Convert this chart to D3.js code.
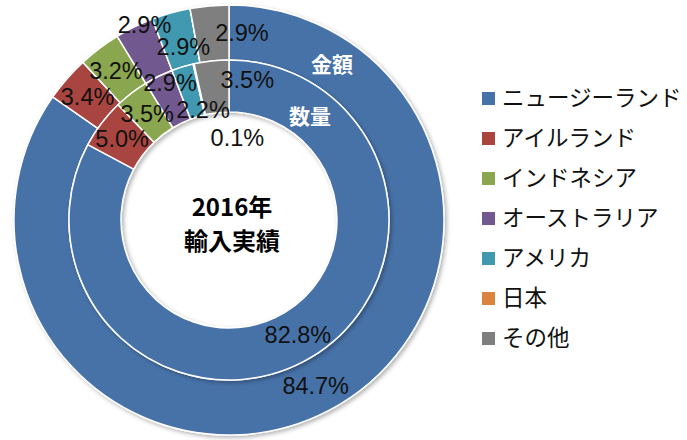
<!DOCTYPE html>
<html>
<head>
<meta charset="utf-8">
<script src="https://cdn.jsdelivr.net/npm/d3@7"></script>
<style>
  html, body { margin: 0; padding: 0; background: #fff; }
  svg { display: block; }
</style>
</head>
<body>
<svg id="chart"></svg>
<script>
// 2016 import results by country: outer ring = value (金額), inner ring = quantity (数量)
const countries = ['ニュージーランド', 'アイルランド', 'インドネシア', 'オーストラリア', 'アメリカ', '日本', 'その他'];
const valueShare = [84.7, 3.4, 3.2, 2.9, 2.9, 0, 2.9];
const quantityShare = [82.8, 5.0, 3.5, 2.9, 2.2, 0.1, 3.5];
const colors = ['#4672A8', '#A9443F', '#8AA64F', '#71588F', '#4199B0', '#DB843D', '#7F7F7F'];

// label nudges (px) where Excel moved labels away from slice centroids
const outerNudge = [[0, 0], [0, 0], [0, 0], [-2, -27], [5, 7], [0, 0], [30, -1]];
const innerNudge = [[0, 0], [0, 0], [0, 0], [0, -17], [13, 18], [38, 48], [33, -7]];

const width = 687, height = 440;
const cx = 229, cy = 220;
const rOuter = 215, rMid = 160, rInner = 108;

const svg = d3.select('#chart').attr('width', width).attr('height', height);

const defs = svg.append('defs');
const shadow = defs.append('filter').attr('id', 'shadow')
  .attr('x', '-10%').attr('y', '-10%').attr('width', '120%').attr('height', '120%');
shadow.append('feDropShadow')
  .attr('dx', 2).attr('dy', 2).attr('stdDeviation', 2)
  .attr('flood-color', '#000').attr('flood-opacity', 0.3);

const g = svg.append('g').attr('transform', `translate(${cx},${cy})`);

const pie = d3.pie().sort(null).value(d => d.v);

function ring(values, r0, r1, nudge, cls) {
  const data = pie(values.map((v, i) => ({ v, i })));
  const arc = d3.arc().innerRadius(r0).outerRadius(r1);
  const labelArc = d3.arc().innerRadius((r0 + r1) / 2).outerRadius((r0 + r1) / 2);

  const grp = g.append('g').attr('class', cls);
  grp.append('g')
    .attr('filter', 'url(#shadow)')
    .selectAll('path')
    .data(data)
    .join('path')
      .attr('d', arc)
      .attr('fill', d => colors[d.data.i])
      .attr('stroke', '#fff')
      .attr('stroke-width', 1.5)
      .attr('stroke-linejoin', 'round');

  grp.append('g')
    .selectAll('text')
    .data(data.filter(d => d.data.v > 0))
    .join('text')
      .attr('transform', d => {
        const [x, y] = labelArc.centroid(d);
        const n = nudge[d.data.i];
        return `translate(${x + n[0]},${y + n[1]})`;
      })
      .attr('text-anchor', 'middle')
      .attr('dy', '0.35em')
      .style('font-family', '"Liberation Sans Narrow", "Arial Narrow", sans-serif')
      .style('font-size', '23.5px')
      .style('fill', '#111')
      .text(d => d.data.v.toFixed(1) + '%');
}

ring(valueShare, rMid, rOuter, outerNudge, 'outer');
ring(quantityShare, rInner, rMid, innerNudge, 'inner');

// ring captions
const jpFont = '"Noto Sans CJK JP", "Noto Sans", sans-serif';
g.append('text')
  .attr('x', 103).attr('y', -155)
  .attr('text-anchor', 'middle').attr('dy', '0.35em')
  .style('font-family', jpFont).style('font-weight', 'bold')
  .style('font-size', '21px').style('fill', '#fff')
  .text('金額');
g.append('text')
  .attr('x', 81).attr('y', -103)
  .attr('text-anchor', 'middle').attr('dy', '0.35em')
  .style('font-family', jpFont).style('font-weight', 'bold')
  .style('font-size', '21px').style('fill', '#fff')
  .text('数量');

// center title
const title = g.append('text')
  .attr('text-anchor', 'middle')
  .style('font-family', jpFont).style('font-weight', 'bold')
  .style('font-size', '24px').style('fill', '#000');
title.append('tspan').attr('x', 3).attr('y', -12).attr('dy', '0.35em').text('2016年');
title.append('tspan').attr('x', 3).attr('y', 22).attr('dy', '0.35em').text('輸入実績');

// legend
const legend = svg.append('g').attr('transform', 'translate(482,98)');
const rows = legend.selectAll('g')
  .data(countries)
  .join('g')
    .attr('transform', (d, i) => `translate(0,${i * 40})`);
rows.append('rect')
  .attr('x', 0).attr('y', -6)
  .attr('width', 13).attr('height', 13)
  .attr('fill', (d, i) => colors[i]);
rows.append('text')
  .attr('x', 20).attr('dy', '0.35em')
  .style('font-family', jpFont)
  .style('font-size', '22.5px')
  .style('fill', '#111')
  .text(d => d);
</script>
</body>
</html>
